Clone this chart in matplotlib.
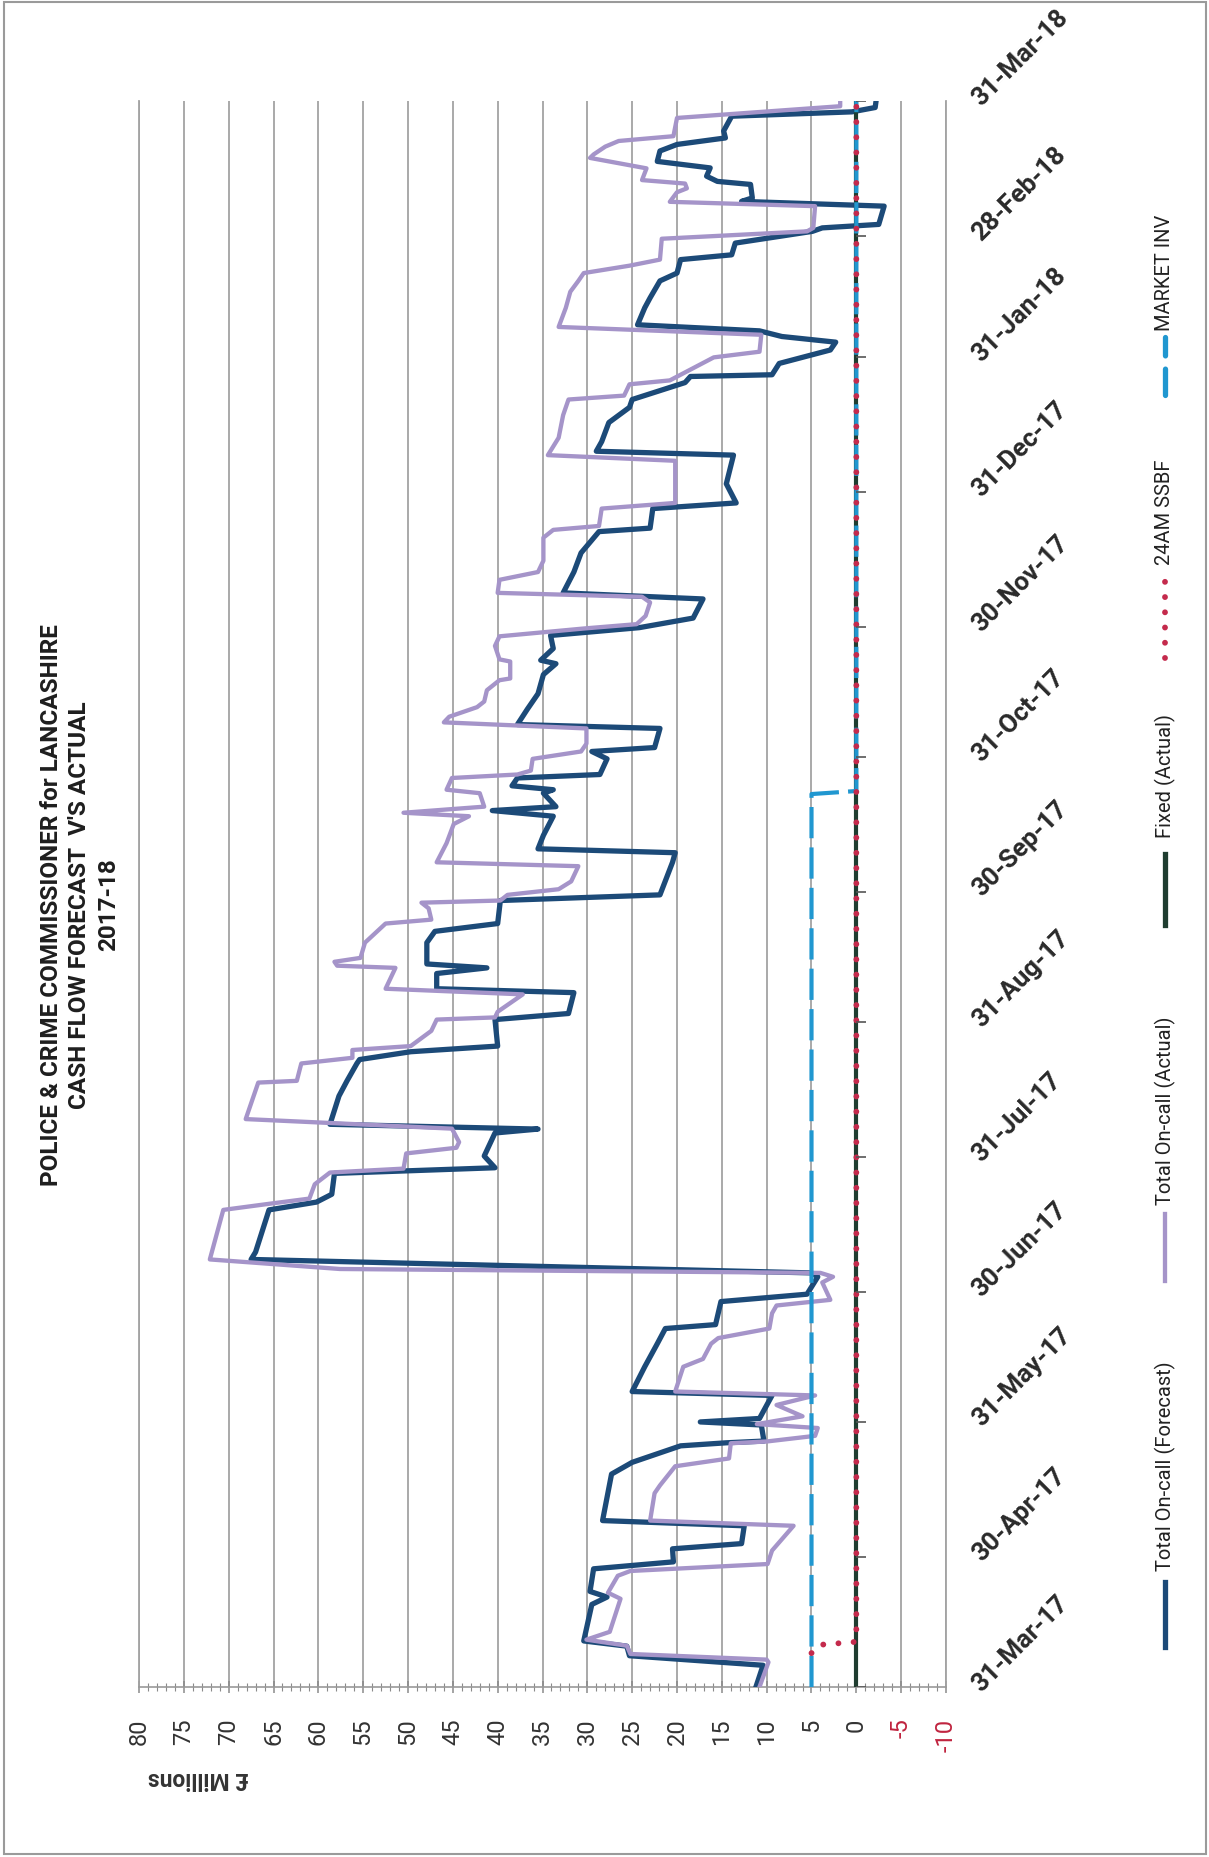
import numpy as np
import matplotlib
matplotlib.use("Agg")
import matplotlib.pyplot as plt
import matplotlib.dates as mdates
from matplotlib.lines import Line2D
from matplotlib.patches import Rectangle
from matplotlib.ticker import MultipleLocator
from datetime import datetime

plt.rcParams["font.family"] = ["Roboto", "DejaVu Sans"]

START = datetime(2017, 3, 31)

# days after 31-Mar-17 and balance in £ millions
forecast_days = [0, 5, 7.2, 9.4, 10.6, 19, 20.7, 22, 27.2, 28.8, 31.8, 33.0, 37.1, 38.3,
                 49, 51.7, 55.5, 56.2, 56.6, 60.3, 61.0, 61.8, 67.1, 68.0, 73.7, 79, 82.5,
                 83.4, 88.7, 90.4, 94.4, 95.3, 98.4, 100.1, 109.8, 111.6, 113.4, 118.2,
                 119.5, 122.2, 127.5, 128.4, 129.5, 136, 139.5, 143.5, 144.4, 146.2, 147.5,
                 153.6, 155, 159.8, 160.7, 164.2, 165.5, 166.4, 171.3, 173.9, 175.7, 181,
                 182.3, 189.8, 192, 192.9, 196, 200.4, 201.7, 202.6, 205.7, 206.5, 207.4,
                 209.2, 210, 213.6, 215.3, 216.2, 220.6, 221.5, 225, 228.6, 233, 235.5,
                 236.3, 239, 242, 243.8, 246, 250.4, 251.8, 256.6, 261, 265.9, 266.7, 271.2,
                 272.5, 276.9, 283.5, 284.4, 286.6, 291, 294.5, 296.3, 300.2, 301.6, 302.0,
                 304.6, 307.7, 309.5, 310.8, 312.1, 313.5, 317.4, 319.7, 323.6, 325.4,
                 328.5, 329.6, 332.3, 335.0, 335.8, 336.6, 340.8, 341.9, 342.7, 345.8,
                 346.5, 347.7, 349.6, 351.1, 353.5, 355.0, 356.5, 358.1, 361.5, 362.5,
                 363.5, 365]
forecast_vals = [11.2, 10.4, 25.3, 25.6, 30.4, 29.5, 27.8, 29.7, 29.3, 20.4, 20.5, 12.8, 12.5, 28.3,
                 27.3, 25.0, 19.6, 14.5, 10.3, 10.6, 17.4, 10.8, 9.4, 25.0, 23.6, 22.2, 21.3,
                 15.7, 15.1, 5.5, 4.3, 5.0, 67.5, 67.0, 65.5, 60.2, 58.5, 58.2,
                 40.3, 41.5, 40.3, 35.5, 58.7, 57.7, 56.8, 55.7, 55.4, 49.7, 40.0,
                 40.3, 32.1, 31.5, 46.8, 46.8, 41.2, 47.9, 47.9, 47.0, 40.0, 39.7,
                 21.9, 20.5, 20.2, 35.5, 34.9, 33.8, 40.6, 33.5, 34.9, 33.8, 38.4,
                 37.8, 28.6, 27.8, 29.5, 22.5, 21.9, 37.8, 36.7, 35.5, 34.9, 33.5,
                 35.2, 33.8, 34.1, 24.2, 18.2, 17.1, 32.7, 31.5, 30.7, 28.7, 23.0, 22.7,
                 13.4, 14.5, 13.7, 29.0, 28.4, 27.6, 25.3, 25.0, 19.1, 18.5, 9.4,
                 8.6, 2.9, 2.3, 8.3, 10.8, 24.4, 23.6, 23.0, 21.9, 20.0,
                 19.6, 13.9, 13.5, 4.9, 3.8, -2.5, -3.1, 12.8, 11.6, 11.8,
                 15.5, 16.7, 16.3, 22.2, 21.9, 20.0, 14.6, 14.8, 13.9, 0.5,
                 -2.1, -2.2]

actual_days = [0, 5.7, 6.3, 7.6, 9.5, 10.9, 12.7, 20.3, 21.7, 25.6, 26.7, 28.3, 31.4, 37.1,
               38.3, 44.6, 46.4, 50.8, 52.6, 56.1, 56.5, 57.8, 59.6, 60.5, 62.3, 64.9, 67.1,
               68.0, 73.7, 75.5, 79.0, 80.3, 82.5, 86.0, 87.8, 89.1, 93.1, 94.4, 95.3, 96.2,
               98.4, 109.8, 111.2, 112.4, 115.7, 118.4, 119.3, 122.8, 124.1, 125.4, 128.5,
               130.7, 139.1, 139.5, 143.5, 144.8, 146.6, 147.5, 151, 153.6, 154.1, 155.4,
               159.4, 160.7, 165.5, 166, 166.9, 167.8, 171.3, 175.7, 176.6, 179.2, 180.5,
               181, 182.3, 183.6, 185.4, 188.9, 189.8, 194.2, 198.6, 200.4, 201.2, 202.6,
               205.7, 206.5, 209.2, 210, 210.9, 213.6, 215.3, 217.1, 220.6, 222, 223.3,
               225.5, 226.8, 229.4, 231.7, 232.1, 236, 236.5, 239.6, 241.8, 243.6, 244.6,
               246.5, 249.6, 250.9, 251.8, 254.8, 256.6, 259.2, 264.5, 266.3, 267.2, 271.2,
               272.5, 282.2, 283.5, 287.5, 292.7, 296.3, 297.2, 299.8, 300.7, 306, 307.3,
               311.2, 313, 317.4, 321.1, 323.6, 325.4, 327.1, 328.5, 333.3, 335.0, 335.8,
               340.8, 341.8, 344, 344.9, 346.0, 346.8, 349.5, 351.9, 352.7, 354.5, 355.8,
               356.9, 361.1, 363.8, 365]
actual_vals = [10.8, 9.8, 10.0, 25.2, 25.6, 30.1, 27.5, 26.3, 27.7, 26.6, 25.2, 9.9, 9.4, 7.0,
               23.0, 22.5, 21.9, 20.2, 14.2, 14.0, 10.0, 4.6, 4.3, 11.1, 6.0, 8.9, 4.6,
               20.2, 19.3, 17.1, 16.2, 15.4, 9.7, 9.4, 8.9, 2.9, 3.8, 2.6, 4.0, 57.6,
               72.1, 70.6, 65.5, 61.0, 60.4, 58.7, 50.5, 50.2, 44.6, 44.3, 45.1,
               68.1, 66.7, 62.4, 61.9, 56.2, 56.2, 49.7, 47.4, 46.8, 40.3, 40.0,
               37.2, 52.5, 51.4, 57.9, 58.2, 55.3, 54.8, 52.5, 47.4, 47.7, 48.5,
               39.7, 38.9, 33.2, 31.8, 31.0, 46.8, 45.7, 44.9, 43.2, 50.5, 41.5,
               42.0, 45.7, 45.1, 37.8, 36.3, 36.1, 30.7, 30.1, 30.1, 46.0, 45.4,
               42.3, 41.5, 41.2, 39.8, 38.6, 38.6, 39.8, 40.3, 39.8, 30.4, 24.5,
               23.5, 23.0, 23.9, 40.0, 39.8, 35.5, 34.9, 34.9, 33.8, 28.7, 28.4,
               20.2, 20.2, 34.4, 33.2, 32.7, 32.1, 25.9, 25.3, 20.8, 15.9, 10.8,
               10.6, 33.2, 32.4, 31.9, 31.0, 30.4, 25.3, 21.9, 21.7, 5.5, 4.8,
               4.6, 20.8, 20.0, 18.9, 19.1, 23.9, 23.4, 29.7, 29.3, 28.0, 26.5,
               20.4, 20.0, 1.8, 1.8]

fixed_days = [0, 365]
fixed_vals = [0, 0]
ssbf_days = [7.8, 9.7, 10.4, 365]
ssbf_vals = [5, 4.1, 0, 0]
market_days = [0, 205.5, 206.2, 365]
market_vals = [5, 5, 0, 0]

tick_dates = ["2017-03-31", "2017-04-30", "2017-05-31", "2017-06-30", "2017-07-31",
              "2017-08-31", "2017-09-30", "2017-10-31", "2017-11-30", "2017-12-31",
              "2018-01-31", "2018-02-28", "2018-03-31"]
value_ticks = list(range(-10, 81, 5))

W, H = 1209, 1858
FORECAST_C = "#1c4a78"
ACTUAL_C = "#a594c9"
FIXED_C = "#1f3d30"
SSBF_C = "#c42a4c"
MARKET_C = "#2097d0"
GRID_C = "#a3a3a3"


def fx(x):
    return x / W


def fy(y):
    return 1 - y / H


fig = plt.figure(figsize=(W / 100, H / 100), dpi=100)
fig.patch.set_facecolor("white")
ax = fig.add_axes([fx(139), fy(1688), (946 - 139) / W, (1688 - 102) / H])

base = mdates.date2num(START)
ax.plot(forecast_vals, base + np.array(forecast_days), color=FORECAST_C, lw=3.8,
        solid_joinstyle="round", zorder=3)
ax.plot(actual_vals, base + np.array(actual_days), color=ACTUAL_C, lw=3.1,
        solid_joinstyle="round", zorder=4)
ax.plot(fixed_vals, base + np.array(fixed_days), color=FIXED_C, lw=3.0, zorder=5)
ax.plot(market_vals, base + np.array(market_days), color=MARKET_C, lw=3.0,
        linestyle=(0, (7.5, 2.2)), zorder=6)
ax.plot(ssbf_vals, base + np.array(ssbf_days), color=SSBF_C, lw=4.2,
        linestyle=(0, (0.01, 2.6)), dash_capstyle="round", zorder=7)

tick_nums = [mdates.date2num(datetime.strptime(d, "%Y-%m-%d")) for d in tick_dates]
# little date ticks where the category axis crosses zero
ax.hlines(tick_nums, 0, -1.1, colors="#555555", lw=1.2, zorder=8)

ax.set_xlim(80, -10)
ax.set_ylim(base, base + 365)

ax.set_xticks(value_ticks)
ax.set_xticklabels([str(v) for v in value_ticks], rotation=90, fontsize=17)
for lbl, v in zip(ax.get_xticklabels(), value_ticks):
    lbl.set_color("#c0243f" if v < 0 else "#333333")
ax.xaxis.set_minor_locator(MultipleLocator(1))
ax.tick_params(axis="x", which="major", direction="inout", length=8, width=1.1,
               color="#8a8a8a", pad=18)
ax.tick_params(axis="x", which="minor", direction="inout", length=6, width=0.8, color="#8a8a8a")

ax.yaxis.tick_right()
ax.set_yticks(tick_nums)
ax.set_yticklabels([datetime.strptime(d, "%Y-%m-%d").strftime("%d-%b-%y") for d in tick_dates],
                   rotation=45, rotation_mode="anchor", ha="left", va="center",
                   fontsize=18.5, fontweight="bold", color="#2a2a2a")
ax.tick_params(axis="y", which="both", length=0, pad=22)

ax.grid(axis="x", which="major", color=GRID_C, lw=1.3, zorder=0)
ax.set_axisbelow(True)
for side in ["left", "right"]:
    ax.spines[side].set_color(GRID_C)
    ax.spines[side].set_linewidth(1.3)
ax.spines["top"].set_visible(False)
ax.spines["bottom"].set_color("#999999")
ax.spines["bottom"].set_linewidth(1.2)

# title, axis name
fig.text(fx(80), fy(905),
         "POLICE & CRIME COMMISSIONER for LANCASHIRE\nCASH FLOW FORECAST  V'S ACTUAL\n2017-18",
         rotation=90, ha="center", va="center", multialignment="center",
         fontsize=17.5, fontweight="bold", color="#1e1e1e", linespacing=1.3)
fig.text(fx(198), fy(1779), "£ Millions", rotation=180, ha="center", va="center",
         fontsize=16.5, fontweight="bold", color="#333333")

# legend, drawn rotated down the right side
LX = 1165
entries = [
    ("Total On-call (Forecast)", FORECAST_C, "-", 1648, 1583, 1571, 3.8),
    ("Total On-call (Actual)", ACTUAL_C, "-", 1282, 1215, 1205, 3.1),
    ("Fixed (Actual)", FIXED_C, "-", 926, 855, 838, 3.8),
    ("24AM SSBF", SSBF_C, (0, (0.01, 2.6)), 659, 578, 565, 4.2),
    ("MARKET INV", MARKET_C, (0, (5, 2.5)), 396, 338, 331, 3.8),
]
for label, col, ls, y0, y1, ty, lw in entries:
    ln = Line2D([fx(LX), fx(LX)], [fy(y0), fy(y1)], transform=fig.transFigure,
                color=col, lw=lw, linestyle=ls, dash_capstyle="round")
    fig.add_artist(ln)
    fig.text(fx(LX), fy(ty), label, rotation=90, ha="center", va="bottom",
             fontsize=14.5, color="#222222")

fig.add_artist(Rectangle((fx(4), fy(1855)), (1206 - 4) / W, (1855 - 3) / H,
                         transform=fig.transFigure, fill=False, edgecolor="#9a9a9a", lw=1.5))

fig.savefig("out.png", dpi=100)
